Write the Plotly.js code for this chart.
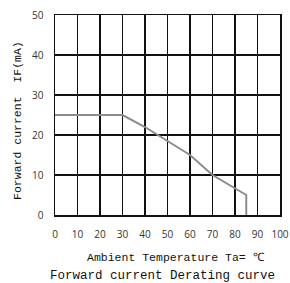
<!DOCTYPE html>
<html><head><meta charset="utf-8">
<script src="https://cdn.plot.ly/plotly-3.0.1.min.js"></script>
<style>html,body{margin:0;padding:0;background:#fff}#c{width:290px;height:283px}</style>
</head><body><div id="c"></div>
<script>
const temperature = [0, 30, 40, 60, 70, 85, 85];
const forwardCurrent = [25, 25, 22, 15, 10, 5, 0];
const xTicks = [0,10,20,30,40,50,60,70,80,90,100];
const yTicks = [0,10,20,30,40,50];
const xTitle = 'Ambient Temperature Ta= ℃';
const yTitle = 'Forward current  IF(mA)';
const chartTitle = 'Forward current Derating curve';

const titleFont = {family: '"Liberation Mono", "DejaVu Sans Mono", monospace', size: 11.5, color: '#111'};
Plotly.newPlot('c', [{
  x: temperature, y: forwardCurrent, type: 'scatter', mode: 'lines',
  line: {color: '#8c8c8c', width: 2}, hoverinfo: 'skip'
}], {
  width: 290, height: 283,
  margin: {l: 55, r: 10, t: 15, b: 68},
  paper_bgcolor: '#fff', plot_bgcolor: '#fff',
  showlegend: false,
  xaxis: {range: [0, 100], tickvals: xTicks, ticktext: xTicks.map(String),
    showgrid: true, gridcolor: '#111', gridwidth: 1.5, zeroline: false,
    showline: true, linecolor: '#111', linewidth: 1.5, mirror: true,
    ticks: '', ticklabelstandoff: 9,
    tickfont: {family: '"Open Sans", "Noto Sans", sans-serif', size: 10, color: '#333'}},
  yaxis: {range: [0, 50], tickvals: yTicks, ticktext: yTicks.map(String),
    showgrid: true, gridcolor: '#111', gridwidth: 1.5, zeroline: false,
    showline: true, linecolor: '#111', linewidth: 1.5, mirror: true,
    ticks: '', ticklabelstandoff: 8,
    tickfont: {family: '"Open Sans", "Noto Sans", sans-serif', size: 10, color: '#333'}},
  annotations: [
    {text: xTitle, xref: 'paper', yref: 'paper', x: 0.536, y: -0.21, xanchor: 'center', yanchor: 'middle', showarrow: false, font: titleFont},
    {text: chartTitle, xref: 'paper', yref: 'paper', x: 0.476, y: -0.305, xanchor: 'center', yanchor: 'middle', showarrow: false, font: Object.assign({}, titleFont, {size: 12.5})},
    {text: yTitle, xref: 'paper', yref: 'paper', x: -0.169, y: 0.475, xanchor: 'center', yanchor: 'middle', textangle: -90, showarrow: false, font: titleFont}
  ]
}, {displayModeBar: false, staticPlot: true});
</script></body></html>
